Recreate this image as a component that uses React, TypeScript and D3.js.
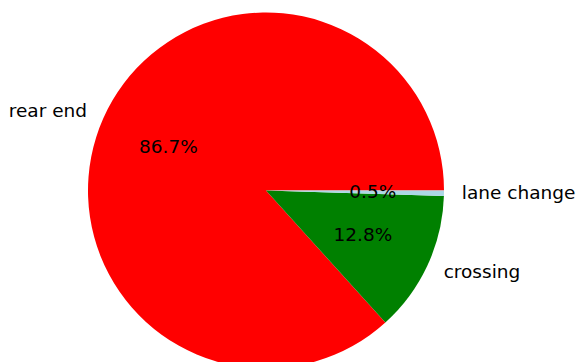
import React from "react";
import * as d3 from "d3";

const labels = ["rear end", "crossing", "lane change"];
const values = [86.7, 12.8, 0.5];
const colors = ["#ff0000", "#008000", "#add8e6"];

const W = 578;
const H = 362;
const cx = 266;
const cy = 190.5;
const R = 178;
const FS = 18.5;

export default function App() {
  // matplotlib style: start at 3 o'clock, counterclockwise
  const pie = d3
    .pie<number>()
    .sort(null)
    .startAngle(Math.PI / 2)
    .endAngle(Math.PI / 2 - 2 * Math.PI)
    .value((d) => d);
  const arcs = pie(values);
  const arcGen = d3.arc<d3.PieArcDatum<number>>().innerRadius(0).outerRadius(R);
  const total = d3.sum(values);
  const pt = (a: number, r: number): [number, number] => [
    cx + r * Math.sin(a),
    cy - r * Math.cos(a),
  ];
  return (
    <svg
      width={W}
      height={H}
      style={{ position: "absolute", left: 0, top: 0 }}
      fontFamily="DejaVu Sans"
    >
      <rect width={W} height={H} fill="#ffffff" />
      <g transform={`translate(${cx},${cy})`}>
        {arcs.map((a, i) => (
          <path key={i} d={arcGen(a) || ""} fill={colors[i]} />
        ))}
      </g>
      {arcs.map((a, i) => {
        const mid = (a.startAngle + a.endAngle) / 2;
        const [lx, ly] = pt(mid, R * 1.1);
        const [px, py] = pt(mid, R * 0.6);
        const anchor = Math.sin(mid) >= 0 ? "start" : "end";
        return (
          <g key={i}>
            <text
              x={lx}
              y={ly - 1}
              textAnchor={anchor}
              dominantBaseline="central"
              fontSize={FS}
              fill="#000"
            >
              {labels[i]}
            </text>
            <text
              x={px}
              y={py - 1}
              textAnchor="middle"
              dominantBaseline="central"
              fontSize={FS}
              fill="#000"
            >
              {((values[i] / total) * 100).toFixed(1) + "%"}
            </text>
          </g>
        );
      })}
    </svg>
  );
}
